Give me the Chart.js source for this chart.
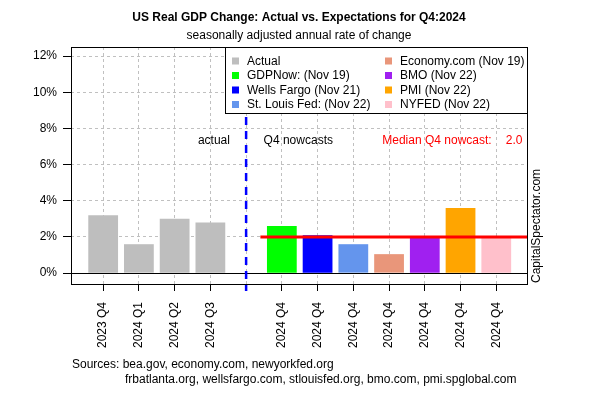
<!DOCTYPE html>
<html>
<head>
<meta charset="utf-8">
<script src="https://cdn.jsdelivr.net/npm/chart.js@4.4.1/dist/chart.umd.min.js"></script>
<style>
  html, body { margin: 0; padding: 0; background: #fff; }
</style>
</head>
<body>
<canvas id="gdp-chart" width="600" height="400"></canvas>
<script>
// tick labels along x (slot 4 is the gap with the dashed divider)
const tickLabels = ['2023 Q4', '2024 Q1', '2024 Q2', '2024 Q3', '',
  '2024 Q4', '2024 Q4', '2024 Q4', '2024 Q4', '2024 Q4', '2024 Q4', '2024 Q4'];
const yTicks = [0, 2, 4, 6, 8, 10, 12];

// actual GDP (gray bars)
const actualSlots = [0, 1, 2, 3];
const actualValues = [3.2, 1.6, 3.0, 2.8];

// Q4 nowcasts
const nowcastSlots = [5, 6, 7, 8, 9, 10, 11];
const nowcastValues = [2.6, 2.1, 1.6, 1.05, 2.0, 3.6, 2.0];
const nowcastColors = ['#00FF00', '#0000FF', '#6495ED', '#E9967A', '#A020F0', '#FFA500', '#FFC0CB'];

const medianValue = 2.0;

const legendNames = ['Actual', 'GDPNow: (Nov 19)', 'Wells Fargo (Nov 21)', 'St. Louis Fed: (Nov 22)',
  'Economy.com (Nov 19)', 'BMO (Nov 22)', 'PMI (Nov 22)', 'NYFED (Nov 22)'];
const legendColors = ['#BEBEBE', '#00FF00', '#0000FF', '#6495ED', '#E9967A', '#A020F0', '#FFA500', '#FFC0CB'];

const FONT = "'Liberation Sans', Arial, sans-serif";
Chart.defaults.font.family = FONT;
Chart.defaults.font.size = 12;
Chart.defaults.color = '#000';

let barData = [];
let barColors = [];
actualSlots.forEach(function(s, i) {
  barData.push({ x: s, y: actualValues[i] });
  barColors.push('#BEBEBE');
});
nowcastSlots.forEach(function(s, i) {
  barData.push({ x: s, y: nowcastValues[i] });
  barColors.push(nowcastColors[i]);
});

const extras = {
  id: 'extras',
  afterDatasetsDraw(chart) {
    const ctx = chart.ctx;
    const a = chart.chartArea;
    const xs = chart.scales.x, ys = chart.scales.y;
    ctx.save();
    // zero line
    ctx.strokeStyle = '#000';
    ctx.lineWidth = 1;
    let y0 = Math.round(ys.getPixelForValue(0)) + 0.5;
    ctx.beginPath(); ctx.moveTo(a.left, y0); ctx.lineTo(a.right, y0); ctx.stroke();

    // divider between actual and nowcasts
    let xd = xs.getPixelForValue(4);
    ctx.strokeStyle = '#0000FF';
    ctx.lineWidth = 2.5;
    ctx.setLineDash([8, 6]);
    ctx.beginPath(); ctx.moveTo(xd, a.top); ctx.lineTo(xd, a.bottom + 7); ctx.stroke();
    ctx.setLineDash([]);

    // notes
    let yn = ys.getPixelForValue(7.3);
    ctx.font = '12px ' + FONT;
    ctx.textBaseline = 'middle';
    ctx.fillStyle = '#000';
    ctx.textAlign = 'center';
    ctx.fillText('actual', xs.getPixelForValue(3.1), yn);
    ctx.fillText('Q4 nowcasts', xs.getPixelForValue(5.46), yn);
    ctx.fillStyle = '#FF0000';
    ctx.fillText('Median Q4 nowcast:', xs.getPixelForValue(9.34), yn);
    ctx.fillText(medianValue.toFixed(1), xs.getPixelForValue(11.5), yn);
    ctx.restore();
  },
  afterDraw(chart) {
    const ctx = chart.ctx;
    const a = chart.chartArea;
    ctx.save();
    // frame
    ctx.strokeStyle = '#000';
    ctx.lineWidth = 1;
    ctx.strokeRect(a.left + 0.5, a.top + 0.5, a.right - a.left, a.bottom - a.top);

    // legend box
    let lx = 225.5, ly = a.top + 0.5, lw = a.right - 225, lh = 66;
    ctx.fillStyle = '#fff';
    ctx.fillRect(lx, ly, lw, lh);
    ctx.strokeRect(lx, ly, lw, lh);
    ctx.font = '12px ' + FONT;
    ctx.textBaseline = 'middle';
    ctx.textAlign = 'left';
    legendNames.forEach(function(name, i) {
      let col = Math.floor(i / 4), row = i % 4;
      let sx = col === 0 ? 232 : 385;
      let ry = 61.5 + row * 14.5;
      ctx.fillStyle = legendColors[i];
      ctx.fillRect(sx, ry - 4, 7, 7);
      ctx.fillStyle = '#000';
      ctx.fillText(name, sx + 15, ry);
    });

    // titles
    let cx = (a.left + a.right) / 2;
    ctx.textAlign = 'center';
    ctx.font = 'bold 12px ' + FONT;
    ctx.fillText('US Real GDP Change: Actual vs. Expectations for Q4:2024', cx, 18);
    ctx.font = '12px ' + FONT;
    ctx.fillText('seasonally adjusted annual rate of change', cx, 36);

    // sources
    ctx.textAlign = 'left';
    ctx.fillText('Sources: bea.gov, economy.com, newyorkfed.org', 72, 365);
    ctx.fillText('frbatlanta.org, wellsfargo.com, stlouisfed.org, bmo.com, pmi.spglobal.com', 125, 380);

    // side credit
    ctx.translate(537, a.bottom - 1);
    ctx.rotate(-Math.PI / 2);
    ctx.fillText('CapitalSpectator.com', 0, 0);
    ctx.restore();
  }
};

new Chart(document.getElementById('gdp-chart'), {
  type: 'bar',
  data: {
    datasets: [
      {
        type: 'line',
        data: [{ x: 4.4, y: medianValue }, { x: 11.86, y: medianValue }],
        borderColor: '#FF0000',
        borderWidth: 3,
        pointRadius: 0,
        order: 0
      },
      {
        data: barData,
        backgroundColor: barColors,
        borderWidth: 0,
        barPercentage: 0.833,
        categoryPercentage: 1,
        order: 1
      }
    ]
  },
  options: {
    responsive: false,
    animation: false,
    layout: { padding: { top: 47, right: 73, left: 0, bottom: 0 } },
    plugins: { legend: { display: false }, title: { display: false }, tooltip: { enabled: false } },
    scales: {
      x: {
        type: 'linear',
        min: -0.9,
        max: 11.86,
        offset: false,
        afterBuildTicks: function(scale) {
          scale.ticks = tickLabels.map(function(l, i) { return { value: i }; });
        },
        afterFit: function(scale) { scale.height = 116; },
        ticks: {
          autoSkip: false,
          minRotation: 90,
          maxRotation: 90,
          padding: 11,
          color: '#000',
          callback: function(v) { return tickLabels[v] || ''; }
        },
        grid: { offset: false, color: '#c0c0c0', lineWidth: 1, tickColor: '#000', tickLength: 7 },
        border: { display: false, dash: [3, 3] }
      },
      y: {
        min: -0.6,
        max: 12.5,
        afterBuildTicks: function(scale) {
          scale.ticks = yTicks.map(function(v) { return { value: v }; });
        },
        afterFit: function(scale) { scale.width = 71; },
        ticks: {
          padding: 6,
          color: '#000',
          callback: function(v) { return v + '%'; }
        },
        grid: { color: '#c0c0c0', lineWidth: 1, tickColor: '#000', tickLength: 8 },
        border: { display: false, dash: [3, 3] }
      }
    }
  },
  plugins: [extras]
});
</script>
</body>
</html>
